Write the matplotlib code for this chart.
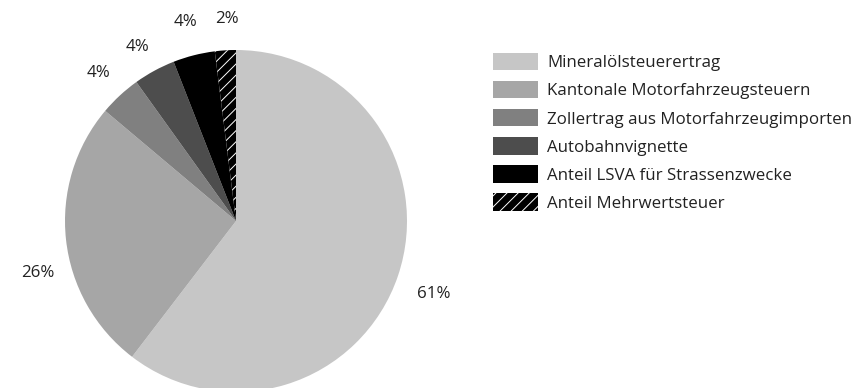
import numpy as np
import matplotlib.pyplot as plt
from matplotlib.patches import Patch

plt.rcParams['font.family'] = ['Open Sans', 'DejaVu Sans']
plt.rcParams['hatch.linewidth'] = 0.7

categories = [
    "Mineralölsteuerertrag",
    "Kantonale Motorfahrzeugsteuern",
    "Zollertrag aus Motorfahrzeugimporten",
    "Autobahnvignette",
    "Anteil LSVA für Strassenzwecke",
    "Anteil Mehrwertsteuer",
]
shares = [61, 26, 4, 4, 4, 2]

colors = ["#c6c6c6", "#a6a6a6", "#808080", "#4d4d4d", "#000000", "#000000"]
hatches = [None, None, None, None, None, "///"]

W, H = 856, 388
fig = plt.figure(figsize=(W / 100, H / 100), dpi=100)

# pie axes placed by pixel centre and radius
cx, cy, r = 236, 221, 171
ax = fig.add_axes([(cx - r) / W, (H - cy - r) / H, 2 * r / W, 2 * r / H])
wedges, _ = ax.pie(shares, colors=colors, startangle=90, counterclock=False,
                   wedgeprops=dict(linewidth=0))
for w, h in zip(wedges, hatches):
    if h:
        w.set_hatch(h)
        w.set_edgecolor("white")
ax.set_xlim(-1, 1)
ax.set_ylim(-1, 1)
ax.set_aspect("equal")
ax.axis("off")

# percentage labels around the pie
label_dist = [1.23, 1.2, 1.18, 1.17, 1.2, 1.18]
angle_shift = [-1.5, 8.5, 0, 1, 0, -1]
for w, v, d, s in zip(wedges, shares, label_dist, angle_shift):
    mid = np.deg2rad((w.theta1 + w.theta2) / 2 + s)
    ax.text(d * np.cos(mid), d * np.sin(mid), f"{v}%", ha="center", va="center",
            fontsize=12.2, color="#222222", clip_on=False)

handles = [Patch(facecolor=c, edgecolor="white" if h else c, hatch=h, linewidth=0)
           for c, h in zip(colors, hatches)]
fig.legend(handles, categories, loc="upper left",
           bbox_to_anchor=(493 / W, 1 - 53 / H), frameon=False,
           fontsize=12.2, handlelength=2.65, handleheight=1.2,
           handletextpad=0.55, labelspacing=0.57, borderpad=0, borderaxespad=0,
           labelcolor="#222222")

fig.savefig("out.png", dpi=100)
